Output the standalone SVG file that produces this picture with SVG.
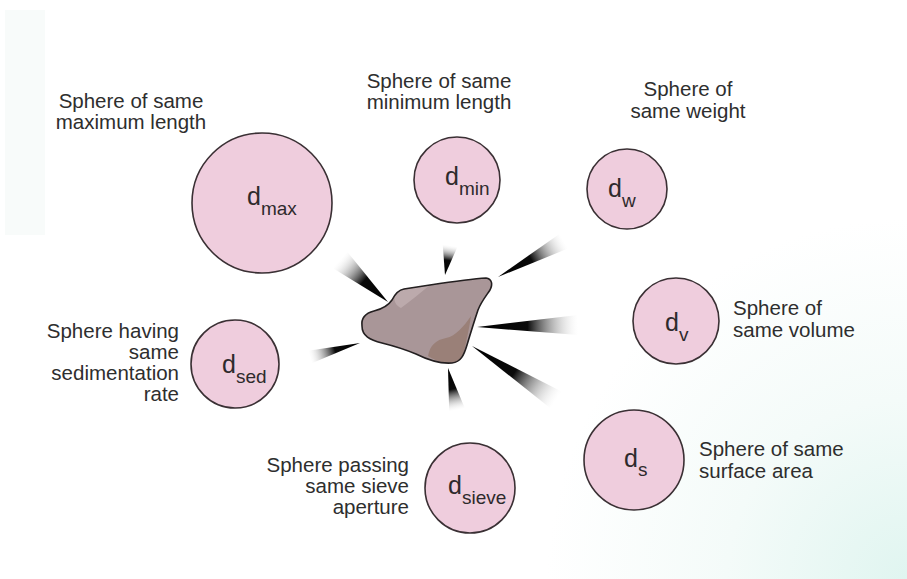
<svg xmlns="http://www.w3.org/2000/svg" width="907" height="579" viewBox="0 0 907 579">
  <defs>
    <radialGradient id="bgTint" cx="907" cy="579" r="360" gradientUnits="userSpaceOnUse">
      <stop offset="0" stop-color="#e0f5f0"/>
      <stop offset="0.5" stop-color="#f4fbf9"/>
      <stop offset="1" stop-color="#ffffff"/>
    </radialGradient>
    <!-- unit ray: tip at origin, widening along +x -->
    <linearGradient id="rayFade" x1="0" y1="0" x2="1" y2="0">
      <stop offset="0" stop-color="#000"/>
      <stop offset="0.5" stop-color="#0a0a0a"/>
      <stop offset="1" stop-color="#ffffff" stop-opacity="0.15"/>
    </linearGradient>
  </defs>
  <style>
    .sphere { fill: #efcddd; stroke: #3a3034; stroke-width: 1.6; }
    .lbl { font-family: "Liberation Sans", Arial, sans-serif; font-size: 20.5px; fill: #2e2e2e; }
    .d { font-family: "Liberation Sans", Arial, sans-serif; font-size: 25px; fill: #2e2a2c; }
    .sub { font-size: 19px; }
    .ray { fill: url(#rayFade); }
  </style>

  <!-- background -->
  <rect width="907" height="579" fill="url(#bgTint)"/>
  <rect x="5" y="10" width="40" height="225" fill="#f8fbfa"/>

  <!-- rays around the particle -->
  <g id="connectors">
    <polygon class="ray" points="0,0 64,-11 64,11" transform="translate(388,302) rotate(221.2)"/>
    <polygon class="ray" points="0,0 30,-7.5 30,7.5" transform="translate(445,275) rotate(279.8)"/>
    <polygon class="ray" points="0,0 75,-8.5 75,8.5" transform="translate(498,277) rotate(-28.6)"/>
    <polygon class="ray" points="0,0 101,-10 101,10" transform="translate(477,327) rotate(-1.1)"/>
    <polygon class="ray" points="0,0 100,-10 100,10" transform="translate(472,346) rotate(32.7)"/>
    <polygon class="ray" points="0,0 43,-8 43,8" transform="translate(448,368) rotate(77.9)"/>
    <polygon class="ray" points="0,0 52,-6.5 52,6.5" transform="translate(360,343) rotate(164.4)"/>
  </g>

  <!-- irregular particle -->
  <g id="particle">
    <path d="M362,326 C361,318 366,313 374,311 C382,309 388,306 392,300 C395,294 398,290 404,289 L430,285 C450,282 470,279 486,278 C492,279 493,284 490,290 C486,296 481,302 478,310 C474,322 470,335 467,345 C464,355 461,362 452,363 C440,364 428,360 416,354 C404,349 394,346 382,343 C370,340 362,336 362,326 Z" fill="#a99698"/>
    <path d="M395,296 C398,291 402,289 410,288 L430,285 C421,292 412,300 401,308 C396,306 393,300 395,296 Z" fill="#bcaaac"/>
    <path d="M428,356 C430,345 436,340 446,338 C456,336 464,326 471,316 C469,330 466,342 464,352 C462,360 458,363 450,363 C442,363 434,360 428,356 Z" fill="#9a8078"/>
    <path d="M362,326 C361,318 366,313 374,311 C382,309 388,306 392,300 C395,294 398,290 404,289 L430,285 C450,282 470,279 486,278 C492,279 493,284 490,290 C486,296 481,302 478,310 C474,322 470,335 467,345 C464,355 461,362 452,363 C440,364 428,360 416,354 C404,349 394,346 382,343 C370,340 362,336 362,326 Z" fill="none" stroke="#231f20" stroke-width="1.6" stroke-linejoin="round"/>
  </g>

  <g id="node-dmax">
    <circle class="sphere" cx="262" cy="203" r="70"/>
    <text class="d" x="247" y="205">d<tspan class="sub" dy="10">max</tspan></text>
    <text class="lbl" text-anchor="middle" x="131" y="108">Sphere of same</text>
    <text class="lbl" text-anchor="middle" x="131" y="129">maximum length</text>
  </g>

  <g id="node-dmin">
    <circle class="sphere" cx="457" cy="180" r="43"/>
    <text class="d" x="445" y="185">d<tspan class="sub" dy="10">min</tspan></text>
    <text class="lbl" text-anchor="middle" x="439" y="88">Sphere of same</text>
    <text class="lbl" text-anchor="middle" x="439" y="109">minimum length</text>
  </g>

  <g id="node-dw">
    <circle class="sphere" cx="627" cy="189" r="40"/>
    <text class="d" x="608" y="197">d<tspan class="sub" dy="10">w</tspan></text>
    <text class="lbl" text-anchor="middle" x="688" y="96">Sphere of</text>
    <text class="lbl" text-anchor="middle" x="688" y="118">same weight</text>
  </g>

  <g id="node-dv">
    <circle class="sphere" cx="676" cy="321" r="43"/>
    <text class="d" x="665" y="331">d<tspan class="sub" dy="10">v</tspan></text>
    <text class="lbl" x="733" y="315">Sphere of</text>
    <text class="lbl" x="733" y="337">same volume</text>
  </g>

  <g id="node-ds">
    <circle class="sphere" cx="634" cy="460" r="50"/>
    <text class="d" x="624" y="467">d<tspan class="sub" dy="9">s</tspan></text>
    <text class="lbl" x="699" y="456">Sphere of same</text>
    <text class="lbl" x="699" y="478">surface area</text>
  </g>

  <g id="node-dsieve">
    <circle class="sphere" cx="470" cy="488" r="45"/>
    <text class="d" x="448" y="494">d<tspan class="sub" dy="10">sieve</tspan></text>
    <text class="lbl" text-anchor="end" x="409" y="472">Sphere passing</text>
    <text class="lbl" text-anchor="end" x="409" y="493">same sieve</text>
    <text class="lbl" text-anchor="end" x="409" y="514">aperture</text>
  </g>

  <g id="node-dsed">
    <circle class="sphere" cx="235" cy="364" r="44"/>
    <text class="d" x="222" y="373">d<tspan class="sub" dy="10">sed</tspan></text>
    <text class="lbl" text-anchor="end" x="179" y="338">Sphere having</text>
    <text class="lbl" text-anchor="end" x="179" y="359">same</text>
    <text class="lbl" text-anchor="end" x="179" y="380">sedimentation</text>
    <text class="lbl" text-anchor="end" x="179" y="401">rate</text>
  </g>
</svg>
